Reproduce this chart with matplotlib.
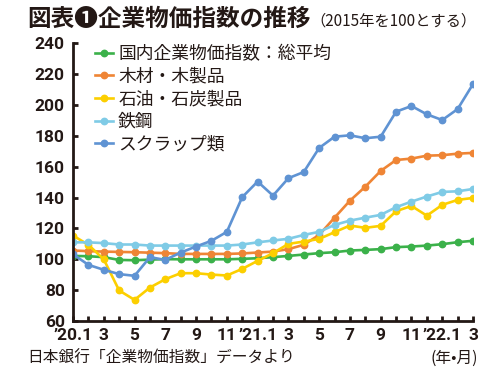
import matplotlib
matplotlib.use("Agg")
import matplotlib.pyplot as plt

plt.rcParams['font.family'] = ['Noto Sans CJK JP', 'DejaVu Sans']

month_labels = ["’20.1", "3", "5", "7", "9", "11", "’21.1", "3", "5", "7", "9", "11", "’22.1", "3"]

names = ["国内企業物価指数：総平均", "木材・木製品", "石油・石炭製品", "鉄鋼", "スクラップ類"]
colors = ["#3bb14a", "#ef8535", "#fccf00", "#7fcbe6", "#5f93d3"]

green = [102.2, 102.0, 101.4, 99.6, 99.4, 99.8, 100.1, 100.0, 100.0, 100.0, 100.0, 100.3, 100.7,
         101.4, 102.2, 103.1, 104.0, 104.6, 105.7, 106.1, 106.6, 107.9, 108.3, 108.9, 109.8, 111.1, 112.0]
orange = [105.7, 105.3, 105.0, 104.8, 104.6, 104.3, 104.0, 103.5, 103.5, 103.5, 103.5, 103.8, 104.4,
          105.0, 106.6, 109.4, 115.8, 127.0, 138.0, 147.1, 157.3, 164.4, 165.3, 167.2, 167.5, 168.5, 169.0]
yellow = [115.4, 109.4, 100.0, 79.8, 73.7, 81.7, 87.1, 91.0, 91.0, 90.1, 89.5, 93.8, 99.0,
          104.0, 110.0, 111.5, 113.2, 117.6, 121.9, 120.4, 121.7, 131.2, 134.6, 128.3, 135.3, 138.5, 139.8]
steel = [111.0, 111.0, 110.5, 109.6, 109.6, 108.9, 108.9, 108.9, 108.9, 108.9, 108.9, 109.6, 111.0,
         112.2, 113.3, 115.8, 117.8, 122.3, 125.1, 127.0, 128.8, 133.8, 137.4, 140.7, 143.7, 144.1, 145.6]
scrap = [103.3, 96.4, 93.2, 90.4, 89.3, 101.4, 99.6, 104.4, 108.3, 112.0, 117.8, 140.3, 150.4,
         141.3, 152.6, 156.6, 172.2, 179.5, 180.4, 178.5, 179.5, 195.7, 199.4, 194.0, 190.3, 197.4, 213.6]

series = [green, orange, yellow, steel, scrap]
x = list(range(len(green)))

fig = plt.figure(figsize=(5, 3.74), dpi=100)
ax = fig.add_axes([0.146, 0.1417, 0.8, 0.7423])

for vals, name, c in zip(series, names, colors):
    ax.plot(x, vals, color=c, lw=1.9, marker='o', ms=4.6, mec=c, label=name)

ax.set_xlim(0, 26)
ax.set_ylim(60, 240)
ax.set_yticks(range(60, 241, 20))
ax.set_xticks(x)
xlabels = []
for i in x:
    xlabels.append(month_labels[i // 2] if i % 2 == 0 else "")
ax.set_xticklabels(xlabels)

for s in ["top", "right"]:
    ax.spines[s].set_visible(False)
for s in ["left", "bottom"]:
    ax.spines[s].set_linewidth(2.0)
    ax.spines[s].set_color("#231815")
    ax.spines[s].set_capstyle("projecting")

ax.tick_params(axis='y', direction='in', length=3.5, width=2, color="#231815", pad=6)
ax.tick_params(axis='x', direction='in', length=3.5, width=2, color="#231815", pad=5)
for lab in ax.get_yticklabels() + ax.get_xticklabels():
    lab.set_family(['Roboto', 'DejaVu Sans'])
    lab.set_fontweight('bold')
    lab.set_fontsize(12.5)
    lab.set_color("#231815")

leg = ax.legend(loc='upper left', bbox_to_anchor=(95 / 500, 1 - 45 / 374), bbox_transform=fig.transFigure,
                frameon=False, fontsize=12.8, handlelength=1.0, handletextpad=0.3,
                labelspacing=0.26, borderpad=0, borderaxespad=0)
for t in leg.get_texts():
    t.set_color("#231815")

title = fig.text(27 / 500, 1 - 26 / 374, "図表❶企業物価指数の推移", fontsize=17, fontweight='bold',
                 color="#231815", va='baseline', ha='left')
fig.canvas.draw()
bb = title.get_window_extent()
fig.text(bb.x1 / 500, 1 - 26 / 374, "（2015年を100とする）", fontsize=11, color="#231815",
         va='baseline', ha='left')

fig.text(27 / 500, 0.043, "日本銀行「企業物価指数」データより", fontsize=11.3, color="#231815",
         va='center', ha='left')
fig.text(478 / 500, 0.043, "(年•月)", fontsize=11.3, color="#231815", va='center', ha='right')

fig.savefig("out.png", dpi=100)
